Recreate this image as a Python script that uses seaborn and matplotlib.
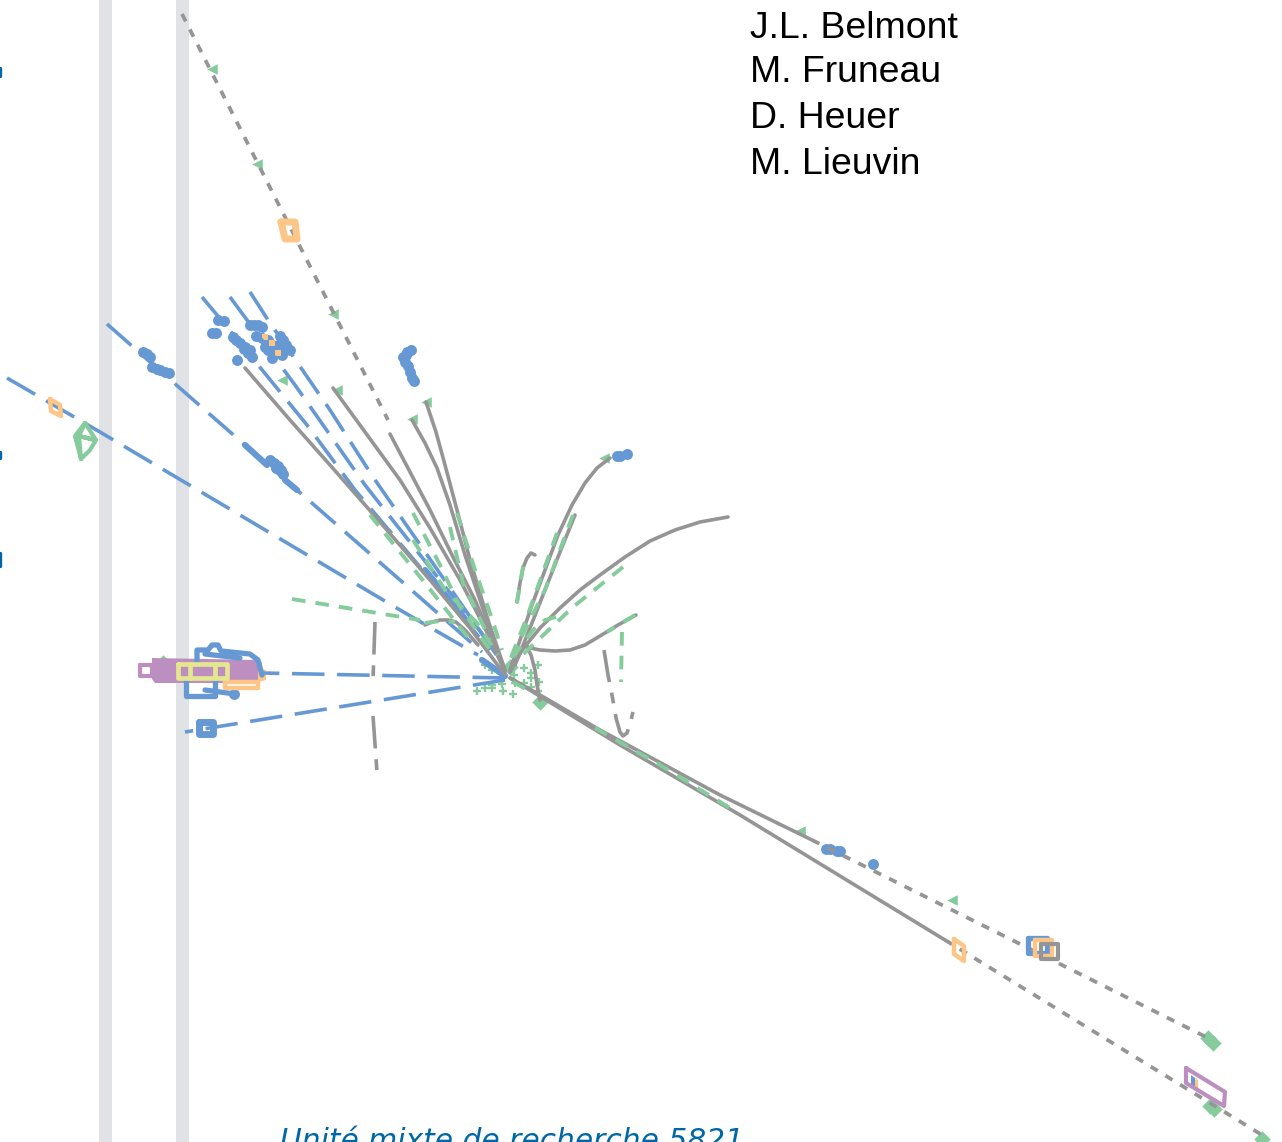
import matplotlib
matplotlib.use("Agg")
import matplotlib.pyplot as plt
import seaborn as sns

GRAY = "#959595"
BLUE = "#6699d3"
GREEN = "#85cb9c"
ORANGE = "#fdc686"
PURPLE = "#bd8fc0"
YELLOW = "#e4e78f"
BAND = "#e1e2e5"
TEXTBLUE = "#0067a6"

authors = ["J.L. Belmont", "M. Fruneau", "D. Heuer", "M. Lieuvin"]
author_y = [28, 72, 118, 164]
lab_name = "Unité mixte de recherche 5821"

band_edges = [(99, 112), (176, 189)]

# tracks, in picture pixels
gray_solid = [
    [(245, 368), (290, 420), (330, 465), (380, 522), (430, 580), (470, 628), (505, 675)],
    [(333, 388), (365, 432), (400, 480), (430, 528), (460, 580), (485, 628), (505, 672)],
    [(390, 434), (410, 472), (430, 510), (452, 555), (475, 600), (490, 635), (505, 670)],
    [(412, 420), (425, 443), (437, 468), (450, 505), (465, 555), (485, 615), (505, 672)],
    [(426, 402), (436, 432), (445, 465), (457, 510), (470, 560), (488, 620), (505, 670)],
    [(510, 670), (520, 640), (532, 605), (545, 570), (558, 535), (572, 505), (585, 483), (597, 468), (610, 458)],
    [(515, 665), (530, 628), (545, 590), (560, 552), (575, 515)],
    [(510, 672), (522, 650), (540, 628), (560, 608), (580, 590), (600, 575), (625, 557), (650, 541), (675, 530),
     (700, 522), (728, 517)],
    [(524, 645), (530, 648), (540, 650), (555, 651), (570, 650), (585, 645), (600, 636), (618, 625), (636, 615)],
    [(517, 602), (520, 583), (523, 568), (527, 558), (531, 553), (535, 555)],
    [(526, 645), (531, 655), (535, 670), (537, 685), (540, 700)],
    [(425, 625), (432, 622), (440, 620), (448, 620), (456, 622), (465, 630), (478, 645)],
    [(510, 678), (540, 695), (600, 730), (720, 795), (812, 840)],
    [(510, 678), (620, 745), (740, 815), (945, 940)],
]
gray_dotted = [
    [(182, 14), (388, 420)],
    [(812, 840), (1212, 1040)],
    [(945, 940), (1262, 1135)],
]
gray_dashdot = [
    [(375, 622), (373, 680)],
    [(373, 716), (377, 772)],
    [(604, 650), (608, 675), (612, 695), (616, 718), (620, 732), (623, 736), (627, 733), (630, 724), (633, 712)],
]
blue_dashed = [
    [(7, 378), (100, 432), (400, 610), (478, 655)],
    [(107, 324), (190, 397), (245, 445), (297, 490), (400, 580), (482, 652)],
    [(202, 297), (232, 333), (307, 425), (355, 490), (490, 650)],
    [(230, 297), (295, 385), (365, 485), (495, 650)],
    [(250, 292), (268, 320), (330, 410), (373, 477), (500, 660)],
    [(505, 678), (262, 673)],
    [(505, 680), (185, 732)],
]
blue_thick = [
    [(245, 445), (267, 465)],
    [(285, 480), (297, 490)],
    [(482, 660), (505, 676)],
    [(425, 570), (470, 625)],
]
green_dashed = [
    [(413, 513), (440, 565), (460, 607), (490, 650)],
    [(413, 540), (445, 590), (477, 623), (498, 655)],
    [(450, 527), (463, 583), (490, 640)],
    [(457, 513), (475, 570), (490, 613), (502, 650)],
    [(370, 515), (425, 583), (470, 640)],
    [(517, 603), (523, 567), (527, 557)],
    [(573, 515), (545, 590), (510, 660)],
    [(557, 533), (527, 617), (510, 660)],
    [(635, 615), (607, 632)],
    [(623, 567), (573, 607), (517, 660)],
    [(556, 617), (545, 620), (533, 630), (513, 657)],
    [(622, 632), (621, 682)],
    [(595, 728), (660, 765), (730, 808)],
    [(513, 682), (533, 693)],
    [(292, 599), (420, 620)],
    [(425, 623), (440, 621), (455, 622)],
]

# calorimeter outlines
orange_boxes = [
    [(50, 399), (60, 405), (61, 416), (51, 411), (50, 399)],
    [(954, 939), (964, 946), (964, 961), (954, 954), (954, 939)],
    [(1035, 940), (1052, 940), (1052, 956), (1035, 956), (1035, 940)],
    [(225, 682), (258, 682), (258, 688), (225, 688), (225, 682)],
]
thick_orange_box = [(281, 222), (295, 222), (297, 239), (285, 239), (281, 222)]
blue_boxes = [
    [(1028, 938), (1047, 938), (1047, 953), (1028, 953), (1028, 938)],
    [(186, 680), (186, 696), (215, 696), (215, 680)],
    [(197, 662), (197, 650), (208, 650), (212, 645), (218, 645), (221, 651), (250, 654), (258, 660), (262, 675)],
    [(205, 690), (235, 694)],
    [(205, 654), (240, 658)],
]
thick_blue_box = [(199, 722), (213, 722), (213, 734), (199, 734), (199, 722)]
gray_boxes = [
    [(1041, 944), (1058, 944), (1058, 959), (1041, 959), (1041, 944)],
]
purple_boxes = [
    [(1186, 1068), (1225, 1092), (1224, 1106), (1186, 1083), (1186, 1068)],
    [(140, 665), (152, 665), (152, 676), (140, 676), (140, 665)],
]
green_gem = [(85, 423), (75, 436), (81, 459), (90, 450), (96, 440), (85, 423), (79, 436), (95, 440), (79, 436),
             (81, 459)]
purple_fill_x = [152, 258, 262, 262, 258, 155, 152]
purple_fill_y = [658, 660, 663, 679, 683, 683, 679]
yellow_cells = [
    [(178, 664), (227, 664), (227, 678), (178, 678), (178, 664)],
    [(190, 664), (190, 678)],
    [(215, 664), (215, 678)],
]
orange_stub_x = [258, 266, 266, 258]
orange_stub_y = [668, 670, 680, 682]
inner_blue_x = [1191, 1195, 1195, 1191]
inner_blue_y = [1075, 1078, 1089, 1087]
inner_orange_x = [1195, 1198, 1198, 1195]
inner_orange_y = [1078, 1080, 1091, 1089]

# hits
blue_hits_x = [143, 147, 150, 152, 157, 160, 165, 169, 212, 216, 218, 224, 233, 236, 240, 244, 248, 252, 237,
               250, 254, 258, 262, 256, 262, 268, 265, 270, 275, 280, 283, 286, 290, 278, 282, 272,
               270, 274, 278, 281, 283, 276, 403, 407, 411, 405, 408, 410, 412, 414, 406,
               617, 620, 627, 826, 830, 837, 840, 873, 234, 245, 250, 272, 278, 268, 285]
blue_hits_y = [352, 354, 357, 367, 369, 370, 372, 373, 333, 333, 320, 321, 337, 340, 343, 349, 353, 357, 360,
               325, 325, 325, 327, 336, 338, 340, 347, 349, 351, 336, 340, 345, 350, 352, 355, 358,
               460, 463, 466, 470, 474, 468, 357, 352, 350, 362, 366, 372, 378, 381, 355,
               456, 456, 454, 849, 849, 851, 851, 864, 694, 347, 350, 345, 345, 350, 348]
green_plus_x = [477, 485, 492, 503, 513, 502, 514, 524, 538, 531, 531, 539, 538, 515, 524, 531, 485, 492, 492]
green_plus_y = [691, 688, 685, 691, 694, 684, 675, 668, 665, 673, 678, 682, 691, 683, 683, 687, 665, 670, 688]
green_mark_x = [212, 257, 333, 337, 412, 426, 604, 800, 952, 282]
green_mark_y = [69, 164, 314, 390, 419, 402, 458, 831, 900, 380]
green_blob_x = [510, 540, 163, 1208, 1213, 1210, 1214, 1262]
green_blob_y = [667, 702, 663, 1038, 1043, 1106, 1109, 1139]
orange_hits_x = [265, 272, 278]
orange_hits_y = [337, 343, 353]


def draw_path(ax, pts, color, lw, style="-"):
    sns.lineplot(x=[p[0] for p in pts], y=[p[1] for p in pts], ax=ax, sort=False, estimator=None,
                 color=color, linewidth=lw, linestyle=style, legend=False)


sns.set_theme(style="white")
fig = plt.figure(figsize=(12.82, 11.42), dpi=100)
ax = fig.add_axes([0, 0, 1, 1])

for left, right in band_edges:
    ax.axvspan(left, right, color=BAND, lw=0)

for pts in blue_dashed:
    draw_path(ax, pts, BLUE, 2.6, (0, (9, 3.5)))
for pts in blue_thick:
    draw_path(ax, pts, BLUE, 4.5)

sns.scatterplot(x=blue_hits_x, y=blue_hits_y, ax=ax, color=BLUE, s=62, marker="o", linewidth=0)
sns.scatterplot(x=orange_hits_x, y=orange_hits_y, ax=ax, color=ORANGE, s=14, marker="s", linewidth=0)

for pts in gray_solid:
    draw_path(ax, pts, GRAY, 2.6)
for pts in gray_dotted:
    draw_path(ax, pts, GRAY, 2.7, (0, (2.2, 2.4)))
for pts in gray_dashdot:
    draw_path(ax, pts, GRAY, 2.6, (0, (9, 3, 3, 3)))
for pts in green_dashed:
    draw_path(ax, pts, GREEN, 2.8, (0, (3.5, 2.6)))

sns.scatterplot(x=green_plus_x, y=green_plus_y, ax=ax, color=GREEN, s=34, marker="+", linewidth=1.7)
sns.scatterplot(x=green_mark_x, y=green_mark_y, ax=ax, color=GREEN, s=58, marker="<", linewidth=0)
sns.scatterplot(x=green_blob_x, y=green_blob_y, ax=ax, color=GREEN, s=70, marker="D", linewidth=0)

# left end cap
for pts in blue_boxes:
    draw_path(ax, pts, BLUE, 3.8)
draw_path(ax, thick_blue_box, BLUE, 5)
ax.fill(purple_fill_x, purple_fill_y, color=PURPLE, lw=0)
ax.fill(orange_stub_x, orange_stub_y, color=ORANGE, lw=0)
for pts in orange_boxes:
    draw_path(ax, pts, ORANGE, 3.2)
draw_path(ax, thick_orange_box, ORANGE, 5)
for pts in gray_boxes:
    draw_path(ax, pts, GRAY, 3)
for pts in purple_boxes:
    draw_path(ax, pts, PURPLE, 3)
for pts in yellow_cells:
    draw_path(ax, pts, YELLOW, 3.4)
draw_path(ax, green_gem, GREEN, 3)
ax.fill(inner_blue_x, inner_blue_y, color=BLUE, lw=0)
ax.fill(inner_orange_x, inner_orange_y, color=ORANGE, lw=0)

# cropped marks on the left edge
for y0, y1 in [(68, 76), (452, 458), (553, 566)]:
    ax.plot([0, 0], [y0, y1], color=TEXTBLUE, lw=2.4)

for name, y in zip(authors, author_y):
    ax.text(750, y, name, fontsize=26.9, family="Liberation Sans", color="black", va="center", ha="left")
ax.text(280, 1150, lab_name, fontsize=21.4, family="DejaVu Sans", style="italic", color=TEXTBLUE,
        va="baseline", ha="left", clip_on=True)

ax.set_xlim(0, 1282)
ax.set_ylim(1142, 0)
ax.set_axis_off()

fig.savefig("out.png", dpi=100, facecolor="white")
